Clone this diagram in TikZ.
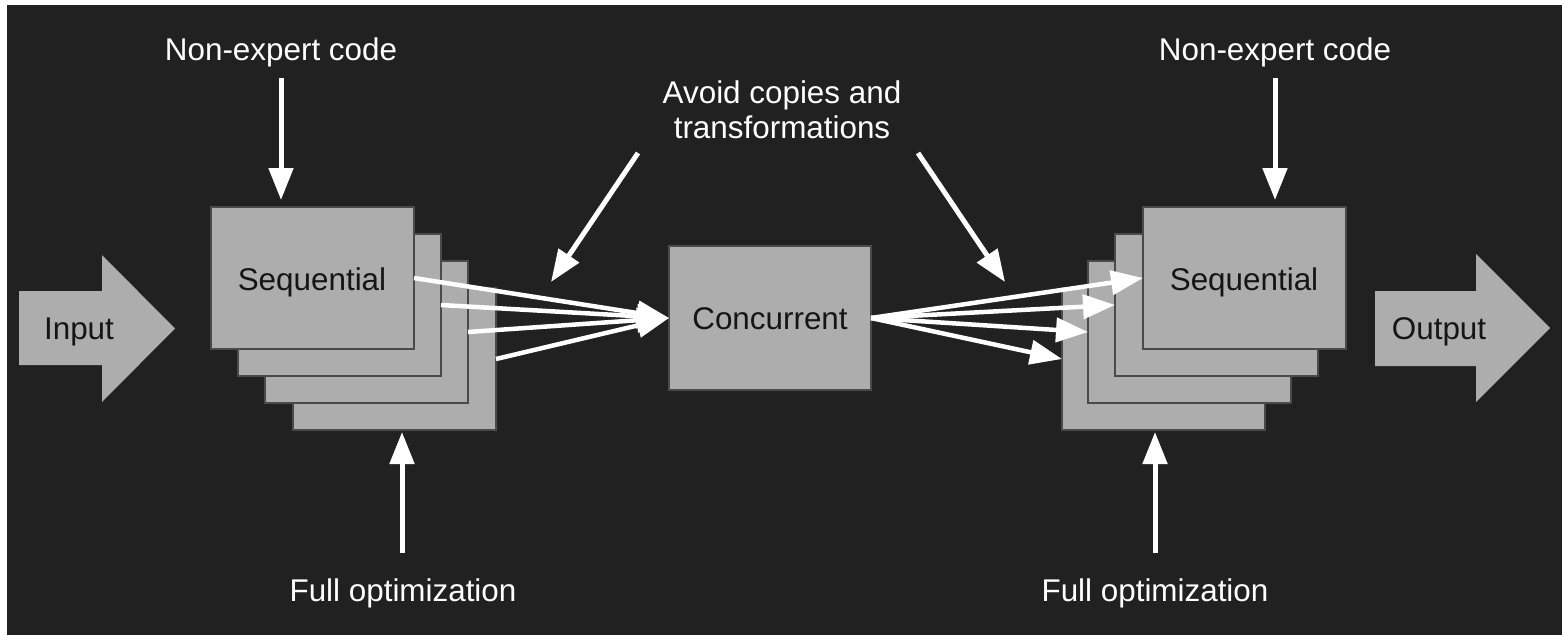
\documentclass[tikz,border=0pt]{standalone}
\usepackage{fontspec}
\setmainfont{Liberation Sans}
\usetikzlibrary{arrows.meta}
\definecolor{bgdark}{HTML}{212121}
\definecolor{boxgray}{HTML}{ADADAD}
\definecolor{boxedge}{HTML}{4A4A4A}
\definecolor{boxtext}{HTML}{151515}
\tikzset{
  x=1pt, y=-1pt,
  every node/.style={font=\fontsize{31.4}{35}\selectfont},
  seqbox/.style={draw=boxedge, fill=boxgray, line width=1.5pt, minimum width=203pt,
    minimum height=142pt, anchor=north west, inner sep=0pt, outer sep=0pt},
  boxlabel/.style={text=boxtext, anchor=base, inner sep=0pt},
  whitelabel/.style={text=white, anchor=base, inner sep=0pt, align=center},
  bigarrow/.style={fill=boxgray, draw=none},
  warrow/.style={draw=white, line width=5pt, -{Triangle[length=32pt,width=24pt]}},
  fanline/.style={draw=white, line width=4.5pt, -{Triangle[length=32pt,width=24pt]}}
}
\begin{document}
\begin{tikzpicture}
\useasboundingbox (0,0) rectangle (1562,635);
\fill[white] (0,0) rectangle (1562,635);
\fill[bgdark] (7,5) rectangle (1562,635);

% Input / Output arrows
\fill[bigarrow] (19,291) -- (102,291) -- (102,255) -- (175,328.5) -- (102,402) -- (102,365) -- (19,365) -- cycle;
\node[boxlabel] (input) at (79,339) {Input};
\fill[bigarrow] (1375,291) -- (1476,291) -- (1476,254) -- (1550,328) -- (1476,402) -- (1476,366) -- (1375,366) -- cycle;
\node[boxlabel] (output) at (1439,339) {Output};

% Left stack (back to front)
\node[seqbox] (L4) at (293,288) {};
\node[seqbox] (L3) at (265,261) {};
\node[seqbox] (L2) at (238,234) {};
\node[seqbox] (L1) at (211,207) {};
\node[boxlabel] (L1t) at (312,290) {Sequential};

% Right stack (back to front)
\node[seqbox] (R4) at (1062,288) {};
\node[seqbox] (R3) at (1088,261) {};
\node[seqbox] (R2) at (1115,234) {};
\node[seqbox] (R1) at (1143,207) {};
\node[boxlabel] (R1t) at (1244,290) {Sequential};

% Concurrent
\node[seqbox, minimum width=202pt, minimum height=144pt] (C) at (669,246) {};
\node[boxlabel] (Ct) at (770,329) {Concurrent};

% Labels
\node[whitelabel] (ne1) at (281,60) {Non-expert code};
\node[whitelabel] (ne2) at (1275,60) {Non-expert code};
\node[whitelabel] (fo1) at (403,601) {Full optimization};
\node[whitelabel] (fo2) at (1155,601) {Full optimization};
\node[whitelabel] (av1) at (782,103) {Avoid copies and};
\node[whitelabel] (av2) at (782,138) {transformations};

% Arrow coordinates
\coordinate (ne1s) at (281,78);
\coordinate (ne1e) at (281,200);
\coordinate (ne2s) at (1275,78);
\coordinate (ne2e) at (1275,200);
\coordinate (fo1s) at (402,553);
\coordinate (fo1e) at (402,432);
\coordinate (fo2s) at (1155,553);
\coordinate (fo2e) at (1155,432);
\coordinate (avls) at (638,153);
\coordinate (avle) at (551,282);
\coordinate (avrs) at (918,153);
\coordinate (avre) at (1005,282);

\draw[warrow] (ne1s) -- (ne1e);
\draw[warrow] (ne2s) -- (ne2e);
\draw[warrow] (fo1s) -- (fo1e);
\draw[warrow] (fo2s) -- (fo2e);
\draw[warrow] (avls) -- (avle);
\draw[warrow] (avrs) -- (avre);

% Fan in
\draw[fanline] (L1.east) -- (C.west);
\draw[fanline] (L2.east) -- (C.west);
\draw[fanline] (L3.east) -- (C.west);
\draw[fanline] (L4.east) -- (C.west);

% Fan out
\draw[fanline] (C.east) -- (R1.west);
\draw[fanline] (C.east) -- (R2.west);
\draw[fanline] (C.east) -- (R3.west);
\draw[fanline] (C.east) -- (R4.west);
\end{tikzpicture}
\end{document}
